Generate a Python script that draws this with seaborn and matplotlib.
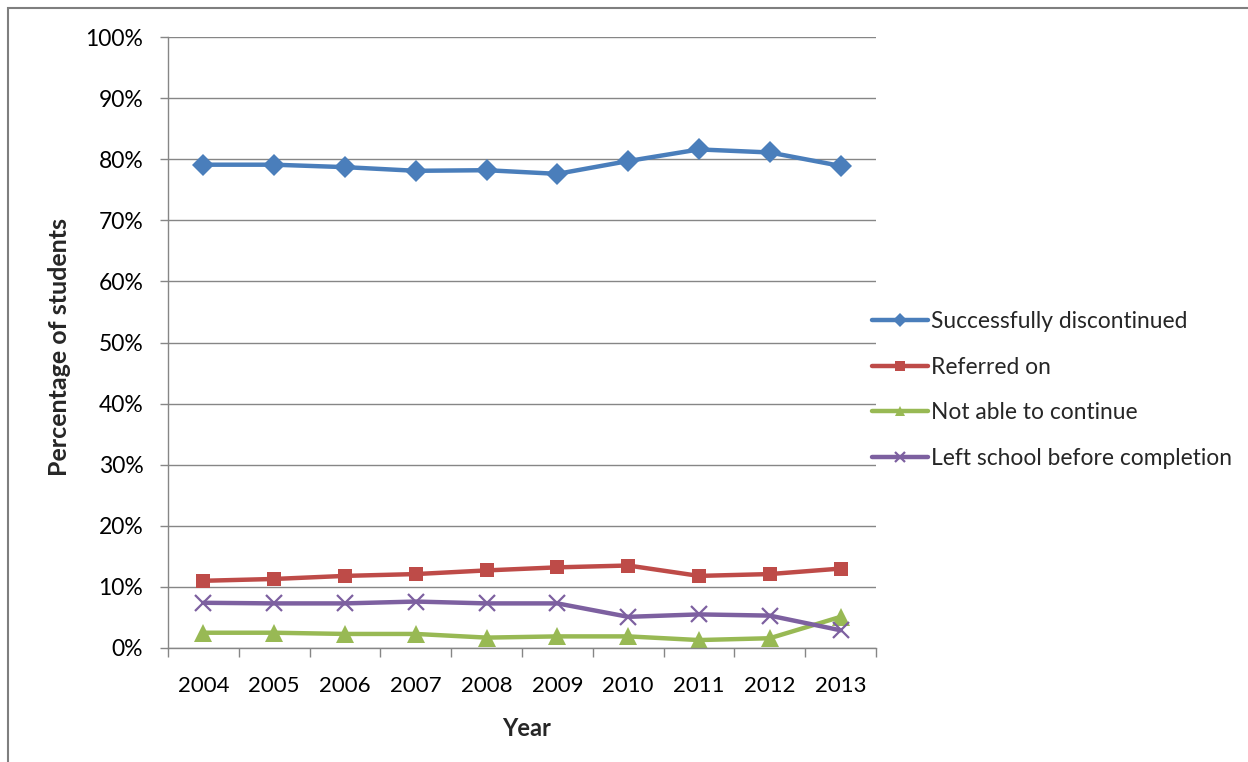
import matplotlib
matplotlib.use("Agg")
import matplotlib.pyplot as plt
import seaborn as sns
import pandas as pd
from matplotlib.patches import Rectangle
from matplotlib.ticker import FixedLocator, PercentFormatter

years = ["2004", "2005", "2006", "2007", "2008", "2009", "2010", "2011", "2012", "2013"]
successfully_discontinued = [79.1, 79.1, 78.7, 78.1, 78.2, 77.6, 79.7, 81.6, 81.1, 78.9]
referred_on = [11.0, 11.3, 11.8, 12.1, 12.7, 13.2, 13.5, 11.8, 12.1, 13.0]
not_able_to_continue = [2.5, 2.5, 2.3, 2.3, 1.7, 1.9, 1.9, 1.3, 1.6, 5.1]
left_school = [7.4, 7.3, 7.3, 7.6, 7.3, 7.3, 5.1, 5.5, 5.3, 2.9]
series_names = ["Successfully discontinued", "Referred on", "Not able to continue",
                "Left school before completion"]

sns.set_theme(style="white")
plt.rcParams['font.family'] = ['Lato', 'DejaVu Sans']

rows = []
for name, vals in zip(series_names, [successfully_discontinued, referred_on,
                                      not_able_to_continue, left_school]):
    for i, (y, v) in enumerate(zip(years, vals)):
        rows.append({"x": i, "Year": y, "value": v, "series": name})
df = pd.DataFrame(rows)

colors = {"Successfully discontinued": "#4A7EBB", "Referred on": "#BE4B48",
          "Not able to continue": "#98B954", "Left school before completion": "#7D60A0"}
markers = {"Successfully discontinued": "D", "Referred on": "s",
           "Not able to continue": "^", "Left school before completion": "x"}
msizes = {"Successfully discontinued": 11, "Referred on": 9.5,
          "Not able to continue": 12.5, "Left school before completion": 12}

fig = plt.figure(figsize=(12.48, 7.62), dpi=100)
W, H = 1248, 762
ax = fig.add_axes([168 / W, 1 - 648 / H, (876 - 168) / W, (648 - 37) / H])

for name in series_names:
    sub = df[df.series == name]
    sns.lineplot(data=sub, x="x", y="value", ax=ax, color=colors[name],
                 linewidth=3.2, marker=markers[name], markersize=msizes[name],
                 markeredgewidth=1.6 if markers[name] == "x" else 0,
                 markeredgecolor=colors[name], label=name, legend=False)

FS = 16
ax.set_xlim(-0.5, len(years) - 0.5)
ax.set_ylim(0, 100)
ax.yaxis.set_major_locator(FixedLocator(range(0, 101, 10)))
ax.yaxis.set_major_formatter(PercentFormatter(decimals=0))
ax.xaxis.set_major_locator(FixedLocator([i - 0.5 for i in range(len(years) + 1)]))
ax.xaxis.set_major_formatter(plt.NullFormatter())
ax.set_xticks(range(len(years)), years, minor=True)
ax.tick_params(axis="x", which="major", direction="out", length=6.5, width=1,
               color="#868686", bottom=True)
ax.tick_params(axis="x", which="minor", length=0, pad=20, labelsize=FS,
               labelcolor="black")
ax.tick_params(axis="y", which="major", direction="out", length=5.8, width=1,
               color="#868686", left=True, pad=12, labelsize=16.5, labelcolor="black")
ax.grid(axis="y", color="#868686", linewidth=1)
ax.grid(axis="x", visible=False)
for s in ["top", "right"]:
    ax.spines[s].set_visible(False)
for s in ["left", "bottom"]:
    ax.spines[s].set_color("#868686")
    ax.spines[s].set_linewidth(1)
ax.set_axisbelow(True)

ax.set_xlabel("Year", fontsize=17, fontweight="bold")
ax.set_ylabel("Percentage of students", fontsize=18, fontweight="bold")
ax.xaxis.set_label_coords((527 - 168) / 708, -(717 - 648) / 611)
ax.yaxis.set_label_coords(-(168 - 71) / 708, (648 - 347) / 611)

handles = ax.get_lines()[:len(series_names)]
leg = fig.legend(handles=handles, labels=series_names, loc="upper left",
                 bbox_to_anchor=(863 / W, 1 - 302 / H), frameon=False,
                 fontsize=16.4, handlelength=2.45, handletextpad=0.15,
                 labelspacing=1.08, borderaxespad=0)
for h in leg.legend_handles:
    h.set_markersize(7)

fig.patches.append(Rectangle((8 / W, -0.2), 1.2, 1.2 - 8 / H, transform=fig.transFigure,
                             fill=False, edgecolor="#7f7f7f", linewidth=1.5))

fig.savefig("out.png", dpi=100)
